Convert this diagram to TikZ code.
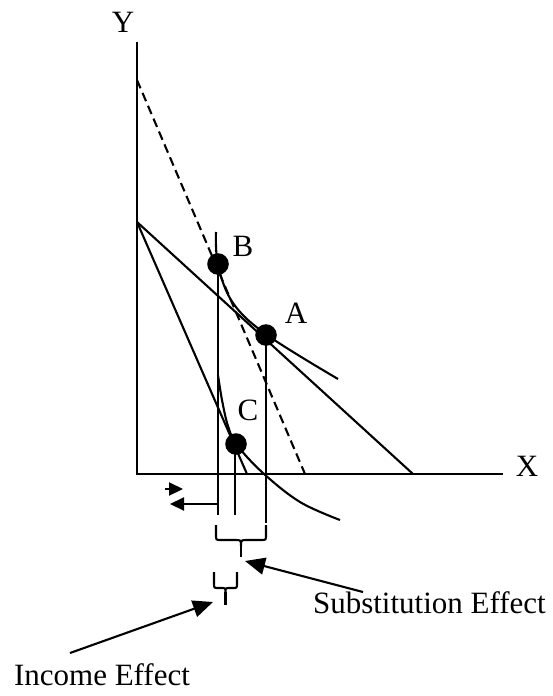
\documentclass[tikz,border=0pt]{standalone}
\usepackage{fontspec}
\setmainfont{Liberation Serif}
\usetikzlibrary{arrows.meta}

\begin{document}
\begin{tikzpicture}[x=1pt,y=-1pt,line width=2.1pt,>={Triangle[length=20pt,width=17pt]},
    lbl/.style={font=\fontsize{31}{36}\selectfont,inner sep=0pt,anchor=base},
    dot/.style={circle,fill=black,inner sep=0pt,minimum size=21.6pt},
    small/.style={-{Triangle[length=14pt,width=13pt]}}]
  \useasboundingbox (0,0) rectangle (553,696);
  % axes
  \coordinate (o) at (137,474);
  \coordinate (ytop) at (137,42);
  \coordinate (xend) at (503,474);
  \draw (ytop) -- (o) -- (xend);
  \node[lbl] (ylab) at (123,32) {Y};
  \node[lbl] (xlab) at (527,476) {X};
  % budget lines
  \coordinate (k) at (137,222);
  \coordinate (kold) at (413,474);
  \coordinate (knew) at (247,474);
  \coordinate (dtop) at (137,80);
  \coordinate (dend) at (305,474);
  \draw (k) -- (kold);
  \draw (k) -- (knew);
  \draw[dash pattern=on 9pt off 5pt] (dtop) -- (dend);
  % indifference curves
  \draw plot[smooth,tension=0.6] coordinates {(216,232) (218,265) (233,303) (267,335) (338,379)};
  \draw plot[smooth,tension=0.6] coordinates {(218,375) (222,400) (228,426) (237,445) (263,473) (300,502) (340,520)};
  % points
  \node[dot] (ptB) at (218,264) {};
  \node[dot] (ptA) at (266,335) {};
  \node[dot] (ptC) at (236,444) {};
  \node[lbl] (labB) at (243,256) {B};
  \node[lbl] (labA) at (296,323) {A};
  \node[lbl] (labC) at (248,420) {C};
  \coordinate (bB) at (218,515);
  \coordinate (bC) at (235,515);
  \coordinate (bA) at (266,523);
  \draw (ptB.center) -- (bB);
  \draw (ptC.center -| bC) -- (bC);
  \draw (ptA.center) -- (bA);
  % small arrows
  \coordinate (sr) at (165,489);
  \coordinate (srend) at (183,489);
  \coordinate (sl) at (218,504);
  \coordinate (slend) at (170,504);
  \draw[small] (sr) -- (srend);
  \draw[small] (sl) -- (slend);
  % braces
  \draw (216,525) -- (216,535) .. controls (216,540) .. (221,540) -- (235,540)
    .. controls (241,540) .. (241,546) .. controls (241,540) .. (247,540) -- (261,540)
    .. controls (266,540) .. (266,535) -- (266,525);
  \draw (241,546) -- (241,557);
  \draw (214,572) -- (214,583) .. controls (214,588) .. (218,588) -- (221,588)
    .. controls (225.5,588) .. (225.5,592) .. controls (225.5,588) .. (230,588) -- (233,588)
    .. controls (237,588) .. (237,583) -- (237,572);
  \draw (225.5,592) -- (225.5,605);
  % labels
  \node[lbl,anchor=base west] (subst) at (312,613) {Substitution Effect};
  \node[lbl,anchor=base west] (income) at (13,685) {Income Effect};
  \coordinate (subtail) at (363,592);
  \coordinate (subtip) at (245,561);
  \coordinate (inctail) at (70,653);
  \coordinate (inctip) at (213,602);
  \draw[->] (subtail) -- (subtip);
  \draw[->] (inctail) -- (inctip);
\end{tikzpicture}
\end{document}
